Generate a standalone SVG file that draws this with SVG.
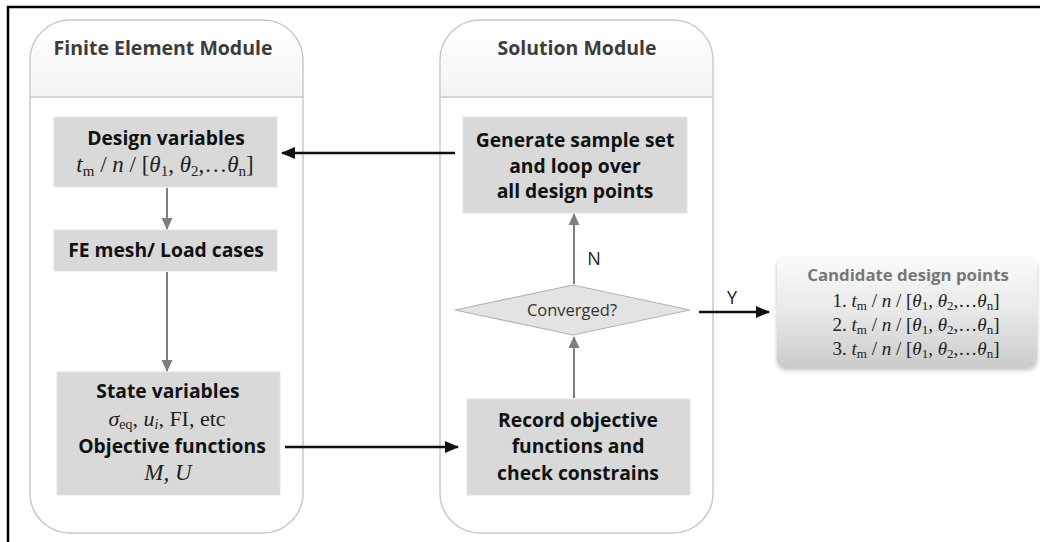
<svg xmlns="http://www.w3.org/2000/svg" width="1040" height="542" viewBox="0 0 1040 542">
<style>
.frame{fill:#fff;stroke:#000;stroke-width:2.5}
.module{fill:#fff;stroke:#c9c9c9;stroke-width:1.5}
.hline{stroke:#c9c9c9;stroke-width:1.5}
.box{fill:#d9d9d9;stroke:#e4e4e4;stroke-width:1}
.mtitle{font-family:"Open Sans","Liberation Sans",sans-serif;font-weight:bold;font-size:19.5px;fill:#3c3c3c;text-anchor:middle}
.ctitle{font-family:"Open Sans","Liberation Sans",sans-serif;font-weight:bold;font-size:16.8px;fill:#777;text-anchor:middle}
.bt{font-family:"Open Sans","Liberation Sans",sans-serif;font-weight:bold;font-size:19.3px;fill:#111;text-anchor:middle}
.math{font-family:"Liberation Serif","DejaVu Serif",serif;font-size:23px;fill:#222;text-anchor:middle}
.cmath{font-family:"Liberation Serif","DejaVu Serif",serif;font-size:19px;fill:#222;text-anchor:middle}
.it{font-style:italic}
.lbl{font-family:"Open Sans","Liberation Sans",sans-serif;font-size:18px;fill:#222;text-anchor:middle}
.conv{font-family:"Open Sans","Liberation Sans",sans-serif;font-size:16.5px;fill:#333;text-anchor:middle}
.gray{stroke:#7f7f7f;stroke-width:2;fill:none}
.black{stroke:#111;stroke-width:2.5;fill:none}
</style>
<defs>
<marker id="ag" markerUnits="userSpaceOnUse" markerWidth="12" markerHeight="12" refX="11" refY="6" orient="auto"><path d="M0,0.5 L12,6 L0,11.5 Z" fill="#7f7f7f"/></marker>
<marker id="ab" markerUnits="userSpaceOnUse" markerWidth="14" markerHeight="14" refX="13" refY="7" orient="auto"><path d="M0,1 L14,7 L0,13 Z" fill="#111"/></marker>
<linearGradient id="cg" x1="0" y1="0" x2="0" y2="1"><stop offset="0" stop-color="#fbfbfb"/><stop offset="0.5" stop-color="#e8e8e8"/><stop offset="1" stop-color="#cbcbcb"/></linearGradient>
<linearGradient id="hg" x1="0" y1="0" x2="0" y2="1"><stop offset="0" stop-color="#ffffff"/><stop offset="1" stop-color="#f4f4f4"/></linearGradient>
<filter id="sh" x="-10%" y="-10%" width="120%" height="130%"><feDropShadow dx="0" dy="2" stdDeviation="2" flood-color="#000" flood-opacity="0.25"/></filter>
</defs>
<rect class="frame" x="8" y="7" width="1045" height="545"/>

<g id="fe-module">
<path class="module" d="M30,60 A40,40 0 0 1 70,20 H263 A40,40 0 0 1 303,60 V493 A40,40 0 0 1 263,533 H70 A40,40 0 0 1 30,493 Z"/>
<path d="M31,60 A39,39 0 0 1 70,21 H263 A39,39 0 0 1 302,60 V96 H31 Z" fill="url(#hg)"/>
<line class="hline" x1="30" y1="97" x2="303" y2="97"/>
<text class="mtitle" x="163" y="55">Finite Element Module</text>
</g>

<g id="solution-module">
<path class="module" d="M440,60 A40,40 0 0 1 480,20 H673 A40,40 0 0 1 713,60 V493 A40,40 0 0 1 673,533 H480 A40,40 0 0 1 440,493 Z"/>
<path d="M441,60 A39,39 0 0 1 480,21 H673 A39,39 0 0 1 712,60 V96 H441 Z" fill="url(#hg)"/>
<line class="hline" x1="440" y1="97" x2="713" y2="97"/>
<text class="mtitle" x="577" y="55">Solution Module</text>
</g>

<g id="design-variables">
<rect class="box" x="54" y="117" width="223" height="70"/>
<text class="bt" x="166" y="145">Design variables</text>
<text class="math" x="165" y="172"><tspan class="it">t</tspan><tspan font-size="15" dy="4">m</tspan><tspan dy="-4"> / </tspan><tspan class="it">n</tspan><tspan> / [</tspan><tspan class="it">θ</tspan><tspan font-size="15" dy="4">1</tspan><tspan dy="-4">, </tspan><tspan class="it">θ</tspan><tspan font-size="15" dy="4">2</tspan><tspan dy="-4">,…</tspan><tspan class="it">θ</tspan><tspan font-size="15" dy="4">n</tspan><tspan dy="-4">]</tspan></text>
</g>

<g id="fe-mesh">
<rect class="box" x="54" y="230" width="223" height="41"/>
<text class="bt" x="166" y="257">FE mesh/ Load cases</text>
</g>

<g id="state-variables">
<rect class="box" x="57" y="372" width="223" height="123"/>
<text class="bt" x="168" y="398">State variables</text>
<text class="math" x="167" y="426" font-size="22" style="font-size:22px"><tspan class="it">σ</tspan><tspan font-size="14" dy="3">eq</tspan><tspan dy="-3">, </tspan><tspan class="it">u</tspan><tspan class="it" font-size="14" dy="3">i</tspan><tspan dy="-3">, FI, etc</tspan></text>
<text class="bt" x="172" y="453">Objective functions</text>
<text class="math it" x="168" y="480">M, U</text>
</g>

<g id="generate">
<rect class="box" x="463" y="117" width="224" height="96"/>
<text class="bt" x="575" y="147">Generate sample set</text>
<text class="bt" x="575" y="173">and loop over</text>
<text class="bt" x="575" y="198">all design points</text>
</g>

<g id="converged">
<polygon points="455,310 573,285 690,310 573,335" fill="#e3e3e3" stroke="#b3b3b3" stroke-width="1.2"/>
<text class="conv" x="572" y="316">Converged?</text>
</g>

<g id="record">
<rect class="box" x="467" y="399" width="223" height="96"/>
<text class="bt" x="578" y="427">Record objective</text>
<text class="bt" x="578" y="453">functions and</text>
<text class="bt" x="578" y="480">check constrains</text>
</g>

<g id="candidates">
<rect x="777" y="257" width="260" height="111" rx="9" fill="url(#cg)" filter="url(#sh)"/>
<text class="ctitle" x="908" y="281">Candidate design points</text>
<text class="cmath" x="916" y="307">1. <tspan class="it">t</tspan><tspan font-size="13" dy="3">m</tspan><tspan dy="-3"> / </tspan><tspan class="it">n</tspan><tspan> / [</tspan><tspan class="it">θ</tspan><tspan font-size="13" dy="3">1</tspan><tspan dy="-3">, </tspan><tspan class="it">θ</tspan><tspan font-size="13" dy="3">2</tspan><tspan dy="-3">,…</tspan><tspan class="it">θ</tspan><tspan font-size="13" dy="3">n</tspan><tspan dy="-3">]</tspan></text>
<text class="cmath" x="916" y="331">2. <tspan class="it">t</tspan><tspan font-size="13" dy="3">m</tspan><tspan dy="-3"> / </tspan><tspan class="it">n</tspan><tspan> / [</tspan><tspan class="it">θ</tspan><tspan font-size="13" dy="3">1</tspan><tspan dy="-3">, </tspan><tspan class="it">θ</tspan><tspan font-size="13" dy="3">2</tspan><tspan dy="-3">,…</tspan><tspan class="it">θ</tspan><tspan font-size="13" dy="3">n</tspan><tspan dy="-3">]</tspan></text>
<text class="cmath" x="916" y="355">3. <tspan class="it">t</tspan><tspan font-size="13" dy="3">m</tspan><tspan dy="-3"> / </tspan><tspan class="it">n</tspan><tspan> / [</tspan><tspan class="it">θ</tspan><tspan font-size="13" dy="3">1</tspan><tspan dy="-3">, </tspan><tspan class="it">θ</tspan><tspan font-size="13" dy="3">2</tspan><tspan dy="-3">,…</tspan><tspan class="it">θ</tspan><tspan font-size="13" dy="3">n</tspan><tspan dy="-3">]</tspan></text>
</g>

<g id="connectors">
<line class="gray" x1="167" y1="188" x2="167" y2="229" marker-end="url(#ag)"/>
<line class="gray" x1="167" y1="272" x2="167" y2="371" marker-end="url(#ag)"/>
<line class="gray" x1="574" y1="398" x2="574" y2="337" marker-end="url(#ag)"/>
<line class="gray" x1="574" y1="284" x2="574" y2="214" marker-end="url(#ag)"/>
<line class="black" x1="455" y1="153" x2="282" y2="153" marker-end="url(#ab)"/>
<line class="black" x1="285" y1="447" x2="458" y2="447" marker-end="url(#ab)"/>
<line class="black" x1="699" y1="312" x2="769" y2="312" marker-end="url(#ab)"/>
<text class="lbl" x="594" y="265">N</text>
<text class="lbl" x="732" y="304">Y</text>
</g>
</svg>
